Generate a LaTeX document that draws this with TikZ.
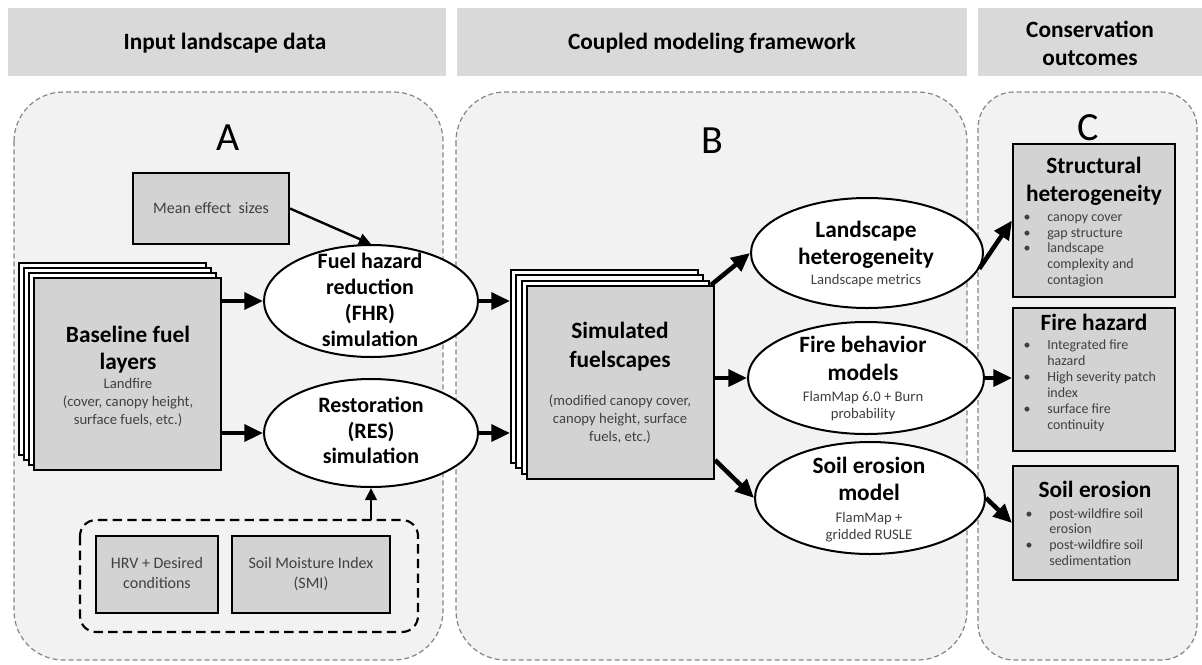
\documentclass[tikz,border=0pt]{standalone}
\usepackage{fontspec}
\setmainfont{Carlito}
\usetikzlibrary{arrows.meta,calc,shapes.geometric}
\definecolor{hdr}{HTML}{D9D9D9}
\definecolor{pnl}{HTML}{F2F2F2}
\definecolor{bx}{HTML}{D3D3D3}
\definecolor{txt}{HTML}{404040}
\definecolor{pbord}{HTML}{858585}
\def\px{*0.75pt}
\newcommand\hfont{\fontsize{17.5}{21}\selectfont\bfseries}
\newcommand\letfont{\fontsize{30}{34}\selectfont}
\newcommand\tfont{\fontsize{17.5}{21}\selectfont\bfseries}
\newcommand\efont{\fontsize{16.5}{19}\selectfont\bfseries}
\newcommand\sfont{\fontsize{11}{13}\selectfont\color{txt}}
\newcommand\mfont{\fontsize{12}{14}\selectfont\color{txt}}
\newcommand\bfont{\fontsize{10.5}{12}\selectfont\color{txt}}
\newcommand\tl[5]{\node[tx,font=#4] (#1) at (#2,#3) {#5};}
\newcommand\bl[4]{\node[tx,font=\bfont] (#1d) at (#2,#4) {•};\node[tx,anchor=base west,font=\bfont] (#1) at ($(#2,#4)+(20,0)$) {#3};}
\begin{document}
\begin{tikzpicture}[x=0.75pt,y=-0.75pt,
  tx/.style={inner sep=0pt,anchor=base},
  hdrbox/.style={fill=hdr,draw=none,inner sep=0pt},
  panel/.style={fill=pnl,draw=pbord,line width=0.9pt,dash pattern=on 3.75pt off 2.25pt},
  gbox/.style={rectangle,fill=bx,draw=black,line width=1.5pt,inner sep=0pt},
  layer/.style={rectangle,fill=white,draw=black,line width=1.5pt,inner sep=0pt},
  ell/.style={ellipse,fill=white,draw=black,line width=1.5pt,inner sep=0pt},
  bigarrow/.style={line width=3.4pt,-{Triangle[length=14pt,width=12.5pt]}},
  thinarrow/.style={line width=1.8pt,-{Triangle[length=9pt,width=8.5pt]}},
  midarrow/.style={line width=2.2pt,-{Triangle[length=9pt,width=8.5pt]}}
]
\useasboundingbox (0,0) rectangle (1202,664);
\fill[white] (0,0) rectangle (1202,664);
% headers
\node[hdrbox,minimum width=438\px,minimum height=68\px] (h1) at (227,42) {};
\node[hdrbox,minimum width=510\px,minimum height=68\px] (h2) at (712,42) {};
\node[hdrbox,minimum width=224\px,minimum height=68\px] (h3) at (1090,42) {};
\tl{h1t}{225}{49}{\hfont}{Input landscape data}
\tl{h2t}{712}{49}{\hfont}{Coupled modeling framework}
\tl{h3t}{1090}{37}{\hfont}{Conservation}
\tl{h3u}{1090}{65}{\hfont}{outcomes}
% panels
\draw[panel,rounded corners=37pt] (14,92) rectangle (443,660);
\draw[panel,rounded corners=37pt] (456,92) rectangle (967,660);
\draw[panel,rounded corners=27pt] (978,92) rectangle (1197,660);
\tl{la}{228}{150}{\letfont}{A}
\tl{lb}{712}{153}{\letfont}{B}
\tl{lc}{1088}{140}{\letfont}{C}
% panel A
\node[gbox,minimum width=156\px,minimum height=71\px] (mean) at (211,208.5) {};
\tl{meant}{211}{213}{\mfont}{Mean effect\ \ sizes}
\node[layer,minimum width=187\px,minimum height=192\px] (b1) at (112.5,359) {};
\node[layer,minimum width=187\px,minimum height=192\px] (b2) at (117.5,364) {};
\node[layer,minimum width=187\px,minimum height=192\px] (b3) at (122.5,369) {};
\node[gbox,minimum width=187\px,minimum height=192\px] (b4) at (127.5,374) {};
\tl{bt1}{128}{342}{\tfont}{Baseline fuel}
\tl{bt2}{128}{369}{\tfont}{layers}
\tl{bt3}{128}{388}{\sfont}{Landfire}
\tl{bt4}{128}{406}{\sfont}{(cover, canopy height,}
\tl{bt5}{128}{424}{\sfont}{surface fuels, etc.)}
\node[ell,minimum width=214\px,minimum height=112\px] (fhr) at (371,301) {};
\tl{ft1}{370}{268}{\efont}{Fuel hazard}
\tl{ft2}{370}{294}{\efont}{reduction}
\tl{ft3}{370}{320}{\efont}{(FHR)}
\tl{ft4}{370}{346}{\efont}{simulation}
\node[ell,minimum width=214\px,minimum height=108\px] (res) at (371,433) {};
\tl{rt1}{371}{412}{\efont}{Restoration}
\tl{rt2}{371}{438}{\efont}{(RES)}
\tl{rt3}{371}{463}{\efont}{simulation}
\draw[line width=1.6pt,dash pattern=on 7pt off 4pt,rounded corners=12pt] (80,520) rectangle (418,632);
\node[inner sep=0pt,minimum width=338\px,minimum height=112\px] (dbox) at (249,576) {};
\node[gbox,minimum width=122\px,minimum height=77\px] (hrv) at (157,574.5) {};
\tl{hv1}{157}{568}{\mfont}{HRV + Desired}
\tl{hv2}{157}{588}{\mfont}{conditions}
\node[gbox,minimum width=158\px,minimum height=77\px] (smi) at (311,574.5) {};
\tl{sm1}{311}{568}{\mfont}{Soil Moisture Index}
\tl{sm2}{311}{588}{\mfont}{(SMI)}
% panel B
\node[layer,minimum width=187\px,minimum height=193\px] (s1) at (604.5,366.5) {};
\node[layer,minimum width=187\px,minimum height=193\px] (s2) at (609.8,371.8) {};
\node[layer,minimum width=187\px,minimum height=193\px] (s3) at (615.2,377.2) {};
\node[gbox,minimum width=187\px,minimum height=193\px] (s4) at (620.5,382.5) {};
\tl{st1}{620}{338}{\tfont}{Simulated}
\tl{st2}{620}{367}{\tfont}{fuelscapes}
\tl{st3}{620}{405}{\sfont}{(modified canopy cover,}
\tl{st4}{620}{423}{\sfont}{canopy height, surface}
\tl{st5}{620}{441}{\sfont}{fuels, etc.)}
\node[ell,minimum width=232\px,minimum height=110\px] (lh) at (867,253) {};
\tl{lt1}{866}{237}{\tfont}{Landscape}
\tl{lt2}{866}{264}{\tfont}{heterogeneity}
\tl{lt3}{866}{284}{\sfont}{Landscape metrics}
\node[ell,minimum width=236\px,minimum height=112\px] (fb) at (866,378) {};
\tl{fbt1}{863}{352}{\tfont}{Fire behavior}
\tl{fbt2}{863}{380}{\tfont}{models}
\tl{fbt3}{863}{401}{\sfont}{FlamMap 6.0 + Burn}
\tl{fbt4}{863}{418}{\sfont}{probability}
\node[ell,minimum width=230\px,minimum height=112\px] (se) at (870,498) {};
\tl{set1}{869}{473}{\tfont}{Soil erosion}
\tl{set2}{869}{500}{\tfont}{model}
\tl{set3}{869}{522}{\sfont}{FlamMap +}
\tl{set4}{869}{539}{\sfont}{gridded RUSLE}
% panel C
\node[gbox,minimum width=162\px,minimum height=153\px] (sh) at (1094,220.5) {};
\tl{sht1}{1094}{173}{\tfont}{Structural}
\tl{sht2}{1094}{201}{\tfont}{heterogeneity}
\bl{sb1}{1027}{canopy cover}{221}
\bl{sb2}{1027}{gap structure}{237}
\bl{sb3}{1027}{landscape}{252}
\node[tx,anchor=base west,font=\bfont] (sb4) at (1047,268) {complexity and};
\node[tx,anchor=base west,font=\bfont] (sb5) at (1047,284) {contagion};
\node[gbox,minimum width=162\px,minimum height=143\px] (fh) at (1094,379.5) {};
\tl{fht}{1094}{330}{\tfont}{Fire hazard}
\bl{fb1}{1027}{Integrated fire}{349}
\node[tx,anchor=base west,font=\bfont] (fb2) at (1047,365) {hazard};
\bl{fb3}{1027}{High severity patch}{381}
\node[tx,anchor=base west,font=\bfont] (fb4) at (1047,397) {index};
\bl{fb5}{1027}{surface fire}{413}
\node[tx,anchor=base west,font=\bfont] (fb6) at (1047,429) {continuity};
\node[gbox,minimum width=165\px,minimum height=114\px] (sebox) at (1095.5,523) {};
\tl{sbt}{1095}{497}{\tfont}{Soil erosion}
\node[tx,font=\bfont] (eb1d) at (1029,518) {•};
\node[tx,anchor=base west,font=\bfont] (eb1) at (1049,518) {post-wildfire soil};
\node[tx,anchor=base west,font=\bfont] (eb2) at (1049,533) {erosion};
\node[tx,font=\bfont] (eb3d) at (1029,549) {•};
\node[tx,anchor=base west,font=\bfont] (eb3) at (1049,549) {post-wildfire soil};
\node[tx,anchor=base west,font=\bfont] (eb4) at (1049,565) {sedimentation};
% arrows
\draw[bigarrow] (b4.east |- fhr.west) -- (fhr.west);
\draw[bigarrow] (b4.east |- res.west) -- (res.west);
\draw[thinarrow] (mean.east) -- (fhr.north);
\draw[midarrow] (dbox.north -| res.south) -- (res.south);
\draw[bigarrow] (fhr.east) -- (s1.west |- fhr.east);
\draw[bigarrow] (res.east) -- (s1.west |- res.east);
\draw[bigarrow] ($(s4.north east)+(-4,0)$) -- (lh.west);
\draw[bigarrow] (s4.east |- fb.west) -- (fb.west);
\draw[bigarrow] ($(s4.south east)+(0,-20)$) -- (se.west);
\draw[bigarrow] (lh.-8) -- (sh.west);
\draw[bigarrow] (fb.east) -- (fh.west |- fb.east);
\draw[bigarrow] (se.east) -- (sebox.west);
\end{tikzpicture}
\end{document}
